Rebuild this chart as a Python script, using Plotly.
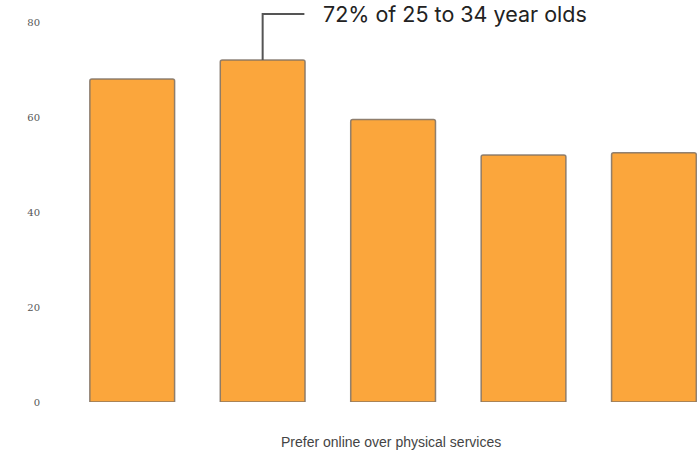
import plotly.graph_objects as go

categories = ["18 to 24", "25 to 34", "35 to 44", "45 to 54", "55+"]
values = [68, 72, 59.5, 52, 52.5]
tick_vals = [0, 20, 40, 60, 80]
tick_text = ["0", "20", "40", "60", "80"]
x_title = "Prefer online over physical services"
callout_index = 1
callout_text = "72% of 25 to 34 year olds"

xs = list(range(len(categories)))

fig = go.Figure()
fig.add_trace(go.Bar(
    x=xs, y=values, width=0.65,
    marker=dict(color="#FBA63C", line=dict(color="rgba(125,112,100,0.85)", width=1.5), cornerradius=2),
    hoverinfo="skip", showlegend=False,
))

# callout connector (elbow)
cx = xs[callout_index]
cy = values[callout_index]
elbow_y = 81.7
fig.add_trace(go.Scatter(
    x=[cx, cx, cx + 0.32], y=[cy, elbow_y, elbow_y],
    mode="lines", line=dict(color="#555555", width=2),
    hoverinfo="skip", showlegend=False,
))
fig.add_annotation(
    x=cx + 0.45, y=elbow_y, xref="x", yref="y", text=callout_text,
    showarrow=False, xanchor="left", yanchor="middle",
    font=dict(family="Inter", size=21.5, color="#222222"),
)

# x-axis title
fig.add_annotation(
    x=0.514, y=-0.1, xref="paper", yref="paper", text=x_title,
    showarrow=False, xanchor="center", yanchor="middle",
    font=dict(family="Liberation Sans", size=14, color="#444444"),
)

fig.update_layout(
    width=697, height=450,
    margin=dict(l=67, r=0, t=3, b=48),
    paper_bgcolor="white", plot_bgcolor="white",
    xaxis=dict(range=[-0.5, 4.33], showticklabels=False, showgrid=False, zeroline=False,
               showline=False, ticks=""),
    yaxis=dict(range=[0, 84], tickvals=tick_vals, ticktext=tick_text, showgrid=False,
               zeroline=False, showline=False, ticks="", ticklabelstandoff=26,
               tickfont=dict(family="DejaVu Serif", size=10, color="#555555")),
)

fig.write_html("out.html")
